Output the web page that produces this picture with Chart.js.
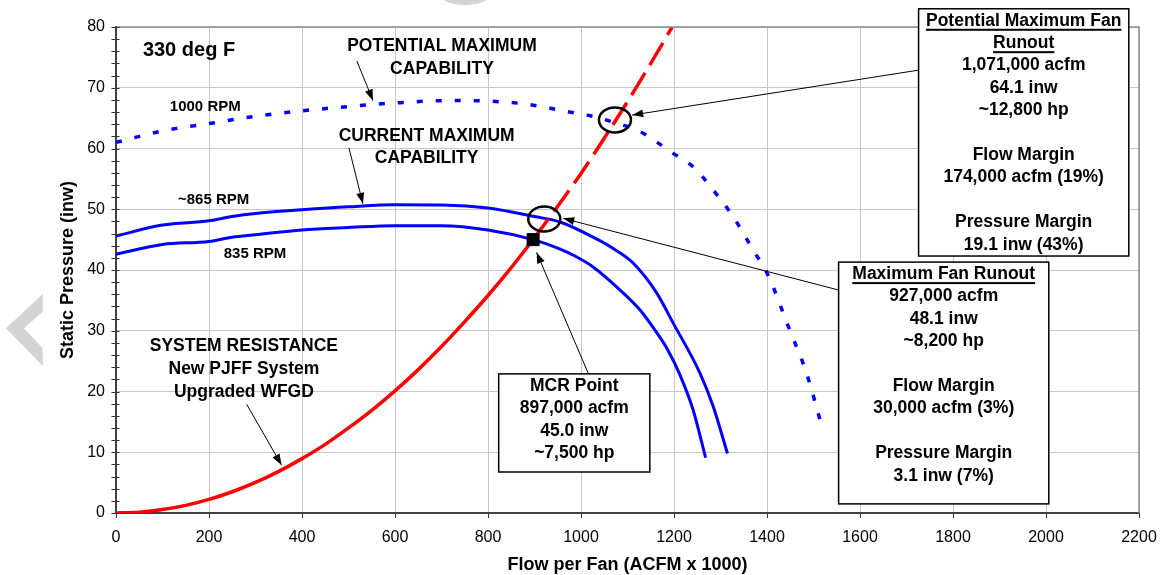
<!DOCTYPE html>
<html>
<head>
<meta charset="utf-8">
<title>Fan Curves - 330 deg F</title>
<script src="https://cdn.jsdelivr.net/npm/chart.js@4.4.1/dist/chart.umd.min.js"></script>
<style>
  html, body { margin: 0; padding: 0; background: #fff; }
  canvas { display: block; }
</style>
</head>
<body>
<canvas id="fanChart" width="1162" height="575"></canvas>
<script>
const FONT = '"Liberation Sans", Arial, Helvetica, sans-serif';

// flow per fan (ACFM x 1000) vs static pressure (inw)
const sysFlow = [0, 50, 100, 150, 200, 250, 300, 350, 400, 450, 500, 550, 600, 650, 700, 750, 800, 850, 897];
const sysPress = [0, 0.14, 0.56, 1.26, 2.24, 3.5, 5.03, 6.85, 8.95, 11.3, 14.0, 16.9, 20.1, 23.6, 27.4, 31.5, 35.8, 40.4, 45.0];

const sysExtFlow = [897, 950, 1000, 1050, 1100, 1150, 1196];
const sysExtPress = [45.0, 50.5, 55.9, 61.7, 67.7, 74.0, 80.0];

const rpm865Flow = [0, 100, 200, 250, 300, 400, 500, 600, 700, 800, 900, 955, 1026, 1070, 1112, 1163, 1198, 1256, 1284, 1315];
const rpm865Press = [45.6, 47.4, 48.1, 48.8, 49.3, 49.9, 50.4, 50.75, 50.7, 50.2, 48.8, 47.9, 45.4, 43.5, 41.15, 36.2, 31.3, 23.0, 17.6, 9.8];

const rpm835Flow = [0, 100, 200, 250, 300, 400, 500, 600, 700, 800, 897, 950, 987, 1026, 1084, 1127, 1159, 1187, 1213, 1241, 1268];
const rpm835Press = [42.6, 44.2, 44.7, 45.4, 45.8, 46.6, 47.0, 47.3, 47.3, 46.6, 45.0, 43.6, 42.3, 40.5, 36.7, 33.4, 30.1, 26.8, 22.7, 17.0, 9.1];

const rpm1000Flow = [0, 100, 200, 300, 400, 500, 600, 725, 800, 883, 969, 1020, 1071, 1127, 1198, 1241, 1284, 1327, 1370, 1400, 1449, 1485, 1521];
const rpm1000Press = [61.0, 62.9, 64.1, 65.3, 66.2, 66.9, 67.5, 67.9, 67.8, 67.3, 66.1, 65.4, 64.3, 62.8, 59.2, 57.0, 53.2, 48.8, 43.3, 39.5, 30.1, 23.0, 13.4];

const mcrFlow = [897];
const mcrPress = [45.0];

const xTickValues = [0, 200, 400, 600, 800, 1000, 1200, 1400, 1600, 1800, 2000, 2200];
const yTickValues = [0, 10, 20, 30, 40, 50, 60, 70, 80];

// free text on the plot, anchored in data units (centre of first line)
const labels = [
    { x: 157, y: 76.2, size: 20, lines: ["330 deg F"] },
    { x: 701, y: 76.8, size: 17.5, lines: ["POTENTIAL MAXIMUM", "CAPABILITY"] },
    { x: 668, y: 62.1, size: 17.5, lines: ["CURRENT MAXIMUM", "CAPABILITY"] },
    { x: 192, y: 66.8, size: 15, lines: ["1000 RPM"] },
    { x: 210, y: 51.5, size: 15, lines: ["~865 RPM"] },
    { x: 299, y: 42.6, size: 15, lines: ["835 RPM"] },
    { x: 275, y: 27.4, size: 17.5, lines: ["SYSTEM RESISTANCE", "New PJFF System", "Upgraded WFGD"] }
];

const boxes = [
    { left: 1726, right: 2178, top: 83.0, bottom: 42.3, underline: 2,
      lines: ["Potential Maximum Fan", "Runout", "1,071,000 acfm", "64.1 inw", "~12,800 hp", "", "Flow Margin", "174,000 acfm (19%)", "", "Pressure Margin", "19.1 inw (43%)"] },
    { left: 1554, right: 2006, top: 41.3, bottom: 1.5, underline: 1,
      lines: ["Maximum Fan Runout", "927,000 acfm", "48.1 inw", "~8,200 hp", "", "Flow Margin", "30,000 acfm (3%)", "", "Pressure Margin", "3.1 inw (7%)"] },
    { left: 823, right: 1148, top: 22.9, bottom: 6.75, underline: 0,
      lines: ["MCR Point", "897,000 acfm", "45.0 inw", "~7,500 hp"] }
];

const arrows = [
    { from: [518, 74.4], to: [552.6, 67.9] },
    { from: [501, 60.1], to: [531, 50.9] },
    { from: [281, 17.9], to: [356, 7.9] },
    { from: [1015.5, 23.0], to: [904.5, 42.9] },
    { from: [1726, 72.9], to: [1110, 65.5] },
    { from: [1554, 36.7], to: [961.7, 48.5] }
];

const rings = [[1073, 64.7], [921, 48.4]];

function toPoints(xs, ys) {
    return xs.map((x, i) => ({ x: x, y: ys[i] }));
}

function drawArrow(ctx, x1, y1, x2, y2) {
    ctx.beginPath();
    ctx.moveTo(x1, y1);
    ctx.lineTo(x2, y2);
    ctx.stroke();
    const a = Math.atan2(y2 - y1, x2 - x1);
    const len = 11, w = 4;
    ctx.beginPath();
    ctx.moveTo(x2, y2);
    ctx.lineTo(x2 - len * Math.cos(a) + w * Math.sin(a), y2 - len * Math.sin(a) - w * Math.cos(a));
    ctx.lineTo(x2 - len * Math.cos(a) - w * Math.sin(a), y2 - len * Math.sin(a) + w * Math.cos(a));
    ctx.closePath();
    ctx.fill();
}

const overlay = {
    id: "overlay",
    beforeDraw(chart) {
        const ctx = chart.ctx;
        ctx.save();
        ctx.fillStyle = "#fff";
        ctx.fillRect(0, 0, chart.width, chart.height);

        // faint page marks from the scan
        ctx.fillStyle = "#d4d4d4";
        ctx.beginPath();
        ctx.moveTo(42.7, 294);
        ctx.lineTo(6, 328.3);
        ctx.lineTo(42.7, 366);
        ctx.lineTo(42.7, 348.3);
        ctx.lineTo(24, 328.3);
        ctx.lineTo(42.7, 311.7);
        ctx.closePath();
        ctx.fill();
        ctx.beginPath();
        ctx.ellipse(465, -9, 28, 14, 0, 0, Math.PI * 2);
        ctx.fill();
        ctx.restore();
    },
    afterDraw(chart) {
        const ctx = chart.ctx;
        const xs = chart.scales.x, ys = chart.scales.y;
        const area = chart.chartArea;
        const px = v => xs.getPixelForValue(v);
        const py = v => ys.getPixelForValue(v);

        ctx.save();

        // top / right frame
        ctx.strokeStyle = "#8c8c8c";
        ctx.lineWidth = 1.5;
        ctx.beginPath();
        ctx.moveTo(area.left, area.top);
        ctx.lineTo(area.right, area.top);
        ctx.lineTo(area.right, area.bottom);
        ctx.stroke();

        // tick marks
        ctx.strokeStyle = "#333";
        ctx.lineWidth = 1;
        for (let v = 0; v <= 80; v += 2) {
            const y = Math.round(py(v)) + 0.5;
            ctx.beginPath();
            ctx.moveTo(area.left - 4.5, y);
            ctx.lineTo(area.left + 3.5, y);
            ctx.stroke();
        }
        xTickValues.forEach(v => {
            const x = Math.round(px(v)) + 0.5;
            ctx.beginPath();
            ctx.moveTo(x, area.bottom);
            ctx.lineTo(x, area.bottom + 5);
            ctx.stroke();
        });

        // axis titles
        ctx.fillStyle = "#000";
        ctx.font = "bold 18px " + FONT;
        ctx.textAlign = "center";
        ctx.textBaseline = "middle";
        ctx.fillText("Flow per Fan (ACFM x 1000)", (area.left + area.right) / 2, 565);
        ctx.save();
        ctx.translate(68.5, (area.top + area.bottom) / 2);
        ctx.rotate(-Math.PI / 2);
        ctx.fillText("Static Pressure (inw)", 0, 0);
        ctx.restore();

        // labels
        labels.forEach(l => {
            ctx.font = "bold " + l.size + "px " + FONT;
            l.lines.forEach((t, i) => ctx.fillText(t, px(l.x), py(l.y) + i * 22.6));
        });

        // arrows
        ctx.strokeStyle = "#000";
        ctx.fillStyle = "#000";
        ctx.lineWidth = 1;
        arrows.forEach(a => drawArrow(ctx, px(a.from[0]), py(a.from[1]), px(a.to[0]), py(a.to[1])));

        // rings round the runout points
        ctx.lineWidth = 2.5;
        rings.forEach(r => {
            ctx.beginPath();
            ctx.ellipse(px(r[0]), py(r[1]), 16, 12.5, 0, 0, Math.PI * 2);
            ctx.stroke();
        });

        // text boxes
        boxes.forEach(b => {
            const l = px(b.left), r = px(b.right), t = py(b.top), btm = py(b.bottom);
            ctx.fillStyle = "#fff";
            ctx.fillRect(l, t, r - l, btm - t);
            ctx.strokeStyle = "#000";
            ctx.lineWidth = 1.5;
            ctx.strokeRect(l, t, r - l, btm - t);
            ctx.fillStyle = "#000";
            ctx.font = "bold 17.5px " + FONT;
            const cx = (l + r) / 2;
            b.lines.forEach((line, i) => {
                const y = t + 12 + i * 22.4;
                ctx.fillText(line, cx, y);
                if (i < b.underline) {
                    const w = ctx.measureText(line).width;
                    ctx.fillRect(cx - w / 2, y + 8, w, 2);
                }
            });
        });

        ctx.restore();
    }
};

const lineBase = {
    showLine: true,
    pointRadius: 0,
    fill: false,
    tension: 0.4,
    cubicInterpolationMode: "monotone"
};

function noScalePadding(s) {
    s.paddingLeft = 0;
    s.paddingRight = 0;
    s.paddingTop = 0;
    s.paddingBottom = 0;
}

new Chart(document.getElementById("fanChart"), {
    type: "scatter",
    data: {
        datasets: [
            {
                label: "MCR Point",
                data: toPoints(mcrFlow, mcrPress),
                pointStyle: "rect",
                pointRadius: 8.5,
                backgroundColor: "#000",
                borderColor: "#000",
                order: 0
            },
            Object.assign({}, lineBase, {
                label: "System Resistance",
                data: toPoints(sysFlow, sysPress),
                borderColor: "#ff0000",
                borderWidth: 3.5,
                order: 1
            }),
            Object.assign({}, lineBase, {
                label: "System Resistance (ext)",
                data: toPoints(sysExtFlow, sysExtPress),
                borderColor: "#ff0000",
                borderWidth: 3.5,
                borderDash: [26, 9],
                order: 1
            }),
            Object.assign({}, lineBase, {
                label: "~865 RPM",
                data: toPoints(rpm865Flow, rpm865Press),
                borderColor: "#0000ff",
                borderWidth: 3,
                order: 2
            }),
            Object.assign({}, lineBase, {
                label: "835 RPM",
                data: toPoints(rpm835Flow, rpm835Press),
                borderColor: "#0000ff",
                borderWidth: 3,
                order: 2
            }),
            Object.assign({}, lineBase, {
                label: "1000 RPM",
                data: toPoints(rpm1000Flow, rpm1000Press),
                borderColor: "#0000ff",
                borderWidth: 3.5,
                borderDash: [6, 13],
                order: 2
            })
        ]
    },
    options: {
        responsive: false,
        animation: false,
        devicePixelRatio: 1,
        layout: { padding: { top: 27, right: 23, left: 0, bottom: 0 } },
        plugins: {
            legend: { display: false },
            tooltip: { enabled: false }
        },
        scales: {
            x: {
                type: "linear",
                min: 0,
                max: 2200,
                afterBuildTicks: s => { s.ticks = xTickValues.map(v => ({ value: v })); },
                afterFit: s => { s.height = 62; noScalePadding(s); },
                ticks: { color: "#000", font: { family: FONT, size: 16 }, padding: 15, maxRotation: 0, callback: v => String(v) },
                grid: { color: "#c8c8c8", drawTicks: false },
                border: { color: "#404040", width: 2 }
            },
            y: {
                type: "linear",
                min: 0,
                max: 80,
                afterBuildTicks: s => { s.ticks = yTickValues.map(v => ({ value: v })); },
                afterFit: s => { s.width = 116; noScalePadding(s); },
                ticks: { color: "#000", font: { family: FONT, size: 16 }, padding: 11, callback: v => String(v) },
                grid: { color: "#c8c8c8", drawTicks: false },
                border: { color: "#404040", width: 2 }
            }
        }
    },
    plugins: [overlay]
});
</script>
</body>
</html>
